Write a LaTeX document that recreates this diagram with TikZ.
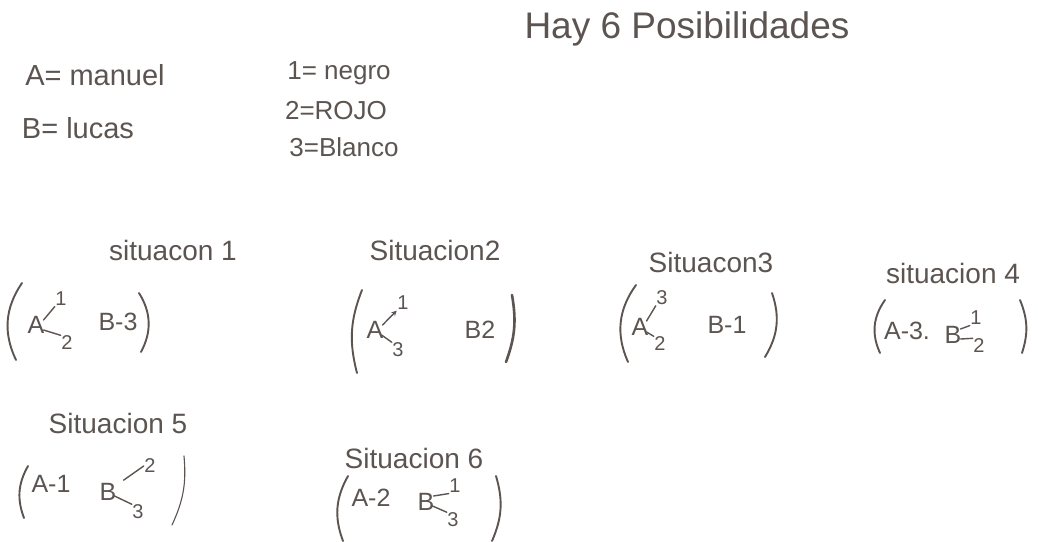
\documentclass[tikz,border=0pt]{standalone}
\usepackage{fontspec}
\setmainfont{Liberation Sans}
\definecolor{ink}{RGB}{92,84,80}
\begin{document}
\begin{tikzpicture}[x=1pt,y=-1pt,
  hw/.style={font=\fontsize{25}{27}\selectfont, text=ink, inner sep=1pt},
  hdr/.style={font=\fontsize{29}{31}\selectfont, text=ink, inner sep=1pt},
  col/.style={font=\fontsize{26}{28}\selectfont, text=ink, inner sep=1pt},
  big/.style={font=\fontsize{37}{39}\selectfont, text=ink, inner sep=1pt},
  ttl/.style={font=\fontsize{28}{30}\selectfont, text=ink, inner sep=1pt},
  sm/.style={font=\fontsize{20}{22}\selectfont, text=ink, inner sep=0.5pt},
  paren/.style={draw=ink, line width=1.9pt, line cap=round},
  branch/.style={draw=ink, line width=1.4pt, line cap=round}]
\useasboundingbox (0,0) rectangle (1038,541);
\fill[white] (0,0) rectangle (1038,541);

\node[big] (hay) at (687,29) {Hay 6 Posibilidades};
\node[hdr] (a) at (95,75) {A= manuel};
\node[hdr] (b) at (78,128) {B= lucas};
\node[col] (c1) at (339,73) {1= negro};
\node[col] (c2) at (336,111) {2=ROJO};
\node[col] (c3) at (344,147) {3=Blanco};

% situacion 1
\node[ttl] (t1) at (173,250) {situacon 1};
\node[hw] (A1) at (36,325) {A};
\node[sm] (A1u) at (61,299) {1};
\node[sm] (A1d) at (67,343) {2};
\node[hw] (B1) at (118,322) {B-3};
\draw[branch] (A1.east) ++(-2,-5) -- (A1u.south west);
\draw[branch] (A1.east) ++(-2,5) -- (A1d.north west);
\coordinate (l1a) at (22,283); \coordinate (l1b) at (16,360);
\coordinate (r1a) at (139,293); \coordinate (r1b) at (141,352);
\draw[paren] (l1a) to[bend right=30] (l1b);
\draw[paren] (r1a) to[bend left=30] (r1b);

% situacion 2
\node[ttl] (t2) at (435,250) {Situacion2};
\node[hw] (A2) at (375,330) {A};
\node[sm] (A2u) at (403,303) {1};
\node[sm] (A2d) at (398,350) {3};
\node[hw] (B2) at (480,330) {B2};
\draw[branch,-stealth] (A2.east) ++(-2,-5) -- (A2u.south west);
\draw[branch] (A2.east) ++(-3,5) -- (A2d.north west);
\coordinate (l2a) at (362,290); \coordinate (l2b) at (357,373);
\coordinate (r2a) at (512,295); \coordinate (r2b) at (506,362);
\draw[paren] (l2a) to[bend right=18] (l2b);
\draw[paren,line width=2.6pt] (r2a) to[bend left=15] (r2b);

% situacion 3
\node[ttl] (t3) at (711,262) {Situacon3};
\node[hw] (A3) at (640,327) {A};
\node[sm] (A3u) at (662,298) {3};
\node[sm] (A3d) at (660,344) {2};
\node[hw] (B3) at (727,325) {B-1};
\draw[branch] (A3.east) ++(-3,-6) -- (A3u.south west);
\draw[branch] (A3.east) ++(-3,5) -- (A3d.north west);
\coordinate (l3a) at (636,285); \coordinate (l3b) at (628,362);
\coordinate (r3a) at (772,293); \coordinate (r3b) at (765,357);
\draw[paren] (l3a) to[bend right=30] (l3b);
\draw[paren] (r3a) to[bend left=25] (r3b);

% situacion 4
\node[ttl] (t4) at (953,273) {situacion 4};
\node[hw] (A4) at (907,331) {A-3.};
\node[hw] (B4) at (953,335) {B};
\node[sm] (B4u) at (976,318) {1};
\node[sm] (B4d) at (979,346) {2};
\draw[branch] (B4.east) ++(-2,-6) -- (B4u.south west);
\draw[branch] (B4.east) ++(-2,4) -- (B4d.north west);
\coordinate (l4a) at (885,300); \coordinate (l4b) at (880,353);
\coordinate (r4a) at (1020,300); \coordinate (r4b) at (1022,353);
\draw[paren] (l4a) to[bend right=30] (l4b);
\draw[paren] (r4a) to[bend left=20] (r4b);

% situacion 5
\node[ttl] (t5) at (118,423) {Situacion 5};
\node[hw] (A5) at (51,484) {A-1};
\node[hw] (B5) at (108,492) {B};
\node[sm] (B5u) at (150,466) {2};
\node[sm] (B5d) at (138,512) {3};
\draw[branch] (B5.north east) ++(6,-2) -- (B5u.west);
\draw[branch] (B5.east) ++(-3,4) -- (B5d.north west);
\coordinate (l5a) at (28,466); \coordinate (l5b) at (24,518);
\coordinate (r5a) at (184,456); \coordinate (r5b) at (172,525);
\draw[paren] (l5a) to[bend right=25] (l5b);
\draw[paren,line width=1.1pt] (r5a) to[bend left=15] (r5b);

% situacion 6
\node[ttl] (t6) at (414,458) {Situacion 6};
\node[hw] (A6) at (371,498) {A-2};
\node[hw] (B6) at (426,502) {B};
\node[sm] (B6u) at (455,486) {1};
\node[sm] (B6d) at (453,520) {3};
\draw[branch] (B6.east) ++(-2,-6) -- (B6u.south west);
\draw[branch] (B6.east) ++(-3,4) -- (B6d.north west);
\coordinate (l6a) at (348,476); \coordinate (l6b) at (343,541);
\coordinate (r6a) at (496,476); \coordinate (r6b) at (492,541);
\draw[paren] (l6a) to[bend right=25] (l6b);
\draw[paren] (r6a) to[bend left=20] (r6b);
\end{tikzpicture}
\end{document}
